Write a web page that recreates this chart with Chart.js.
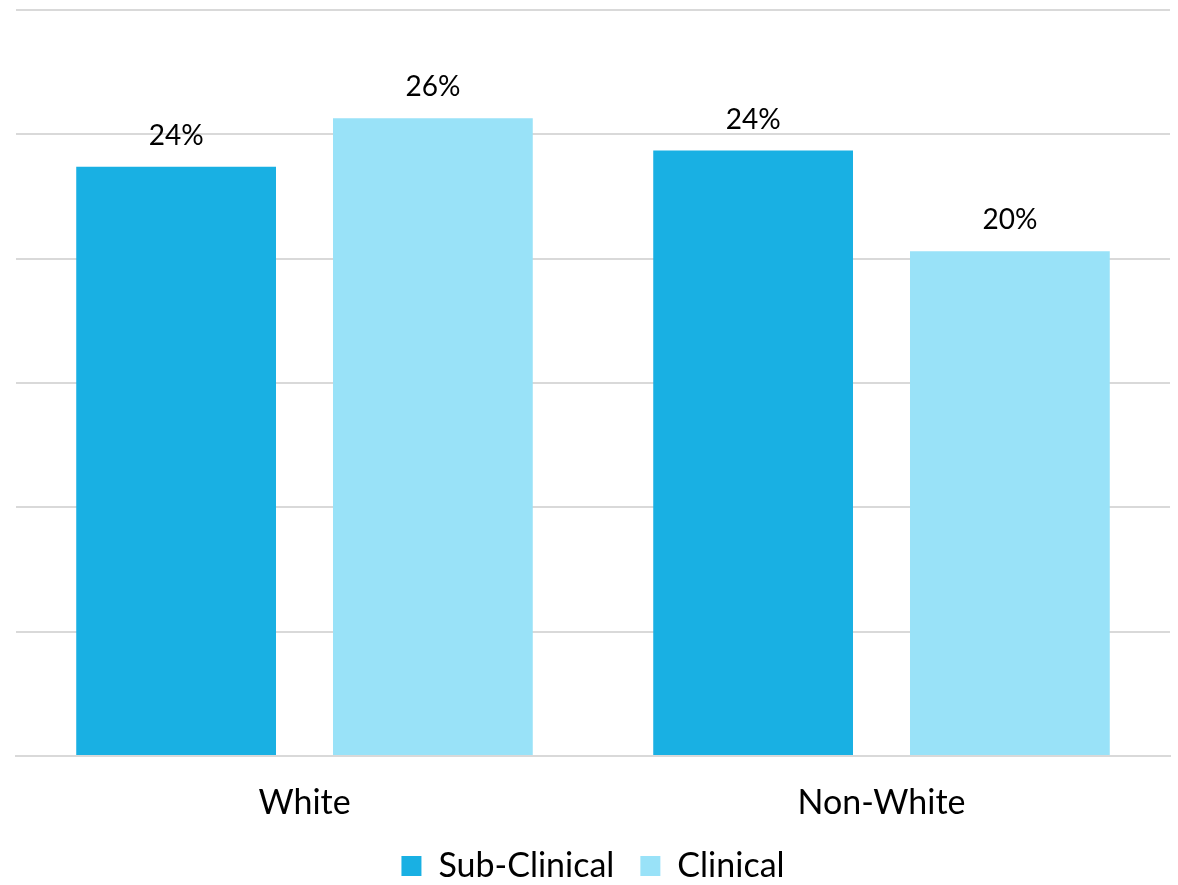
<!DOCTYPE html>
<html>
<head>
<meta charset="utf-8">
<script src="https://cdn.jsdelivr.net/npm/chart.js@4.4.1/dist/chart.umd.min.js"></script>
<style>
  html, body { margin: 0; padding: 0; background: #fff; }
  #wrap { width: 1178px; height: 885px; }
</style>
</head>
<body>
<div id="wrap"><canvas id="chart" width="1178" height="885"></canvas></div>
<script>
// Дані діаграми
const categories = ["White", "Non-White"]
const subClinical = [23.7, 24.35]
const clinical = [25.65, 20.3]
const yTicks = [0, 5, 10, 15, 20, 25, 30]

const FONT = "Lato, 'DejaVu Sans', sans-serif"

// Плагін для підписів над стовпцями
const valueLabels = {
  id: "valueLabels",
  afterDatasetsDraw(chart) {
    const ctx = chart.ctx
    ctx.save()
    ctx.font = "28px " + FONT
    ctx.fillStyle = "#000"
    ctx.textAlign = "center"
    ctx.textBaseline = "bottom"
    chart.data.datasets.forEach((ds, i) => {
      chart.getDatasetMeta(i).data.forEach((bar, j) => {
        ctx.fillText(Math.round(ds.data[j]) + "%", bar.x, bar.y - 17)
      })
    })
    ctx.restore()
  },
}

new Chart(document.getElementById("chart"), {
  type: "bar",
  data: {
    labels: categories,
    datasets: [
      { label: "Sub-Clinical", data: subClinical, backgroundColor: "#19b0e3" },
      { label: "Clinical", data: clinical, backgroundColor: "#99e2f8" },
    ],
  },
  options: {
    responsive: false,
    animation: false,
    layout: { padding: { left: 16, right: 8, top: 10, bottom: -8 } },
    datasets: { bar: { categoryPercentage: 0.89, barPercentage: 0.778 } },
    scales: {
      x: {
        grid: { display: false, drawTicks: false },
        border: { color: "#d9d9d9", width: 2 },
        ticks: { color: "#000", font: { family: FONT, size: 34 }, padding: 27 },
        afterFit(axis) {
          axis.height = 67
        },
      },
      y: {
        min: yTicks[0],
        max: yTicks[yTicks.length - 1],
        afterBuildTicks(axis) {
          axis.ticks = yTicks.map((v) => ({ value: v }))
        },
        grid: { color: "#d9d9d9", lineWidth: 2, drawTicks: false },
        border: { display: false },
        ticks: { display: false },
      },
    },
    plugins: {
      legend: {
        position: "bottom",
        labels: {
          color: "#000",
          font: { family: FONT, size: 34 },
          boxWidth: 20,
          boxHeight: 20,
          padding: 26,
        },
      },
      tooltip: { enabled: false },
    },
  },
  plugins: [valueLabels],
})
</script>
</body>
</html>
